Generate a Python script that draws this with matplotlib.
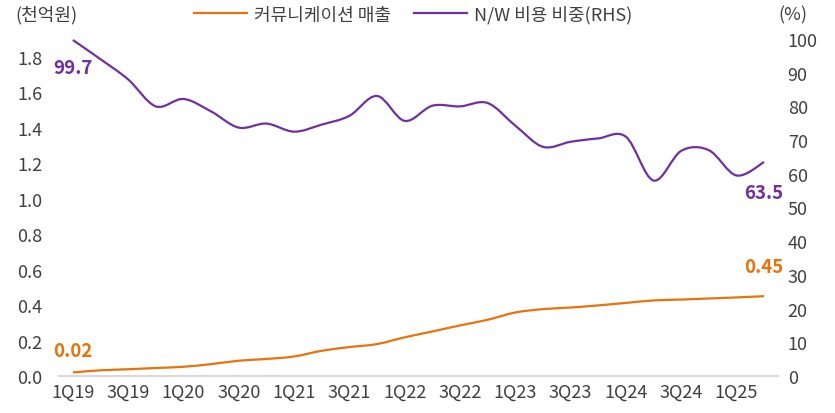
import numpy as np
import matplotlib
matplotlib.use("Agg")
import matplotlib.pyplot as plt
from matplotlib.path import Path
from matplotlib.patches import PathPatch
from matplotlib.lines import Line2D

plt.rcParams['font.family'] = ['Noto Sans CJK KR', 'DejaVu Sans']

# data
quarters = []
for yr in range(19, 26):
    for q in range(1, 5):
        quarters.append(f"{q}Q{yr}")
quarters = quarters[:26]  # 1Q19 ~ 2Q25

comm_sales = [0.02, 0.032, 0.038, 0.045, 0.052, 0.067, 0.086, 0.096, 0.11, 0.142,
              0.163, 0.18, 0.218, 0.251, 0.285, 0.317, 0.358, 0.377, 0.386, 0.398,
              0.412, 0.426, 0.431, 0.437, 0.443, 0.45]
nw_ratio = [99.7, 94.0, 88.0, 80.0, 82.2, 78.5, 73.7, 74.9, 72.5, 74.6,
            77.2, 83.1, 75.7, 80.2, 80.0, 81.0, 74.3, 68.0, 69.5, 70.5,
            71.0, 58.0, 66.8, 67.0, 59.5, 63.5]

orange = '#E8720C'
purple = '#7030A0'
txt = '#404040'


def smooth_path(xs, ys):
    # catmull-rom style bezier through the points (like excel smoothed line)
    pts = np.column_stack([xs, ys]).astype(float)
    ext = np.vstack([pts[0], pts, pts[-1]])
    verts = [pts[0]]
    codes = [Path.MOVETO]
    for i in range(len(pts) - 1):
        p0, p1, p2, p3 = ext[i], ext[i + 1], ext[i + 2], ext[i + 3]
        verts += [p1 + (p2 - p0) / 6, p2 - (p3 - p1) / 6, p2]
        codes += [Path.CURVE4] * 3
    return Path(verts, codes)


fig = plt.figure(figsize=(8.35, 4.14), dpi=100)
ax = fig.add_axes([0.0707, 0.0894, 0.861, 0.8140])
ax2 = ax.twinx()

x = np.arange(len(quarters))
ax.add_patch(PathPatch(smooth_path(x, comm_sales), fill=False, edgecolor=orange, lw=1.6))
ax2.add_patch(PathPatch(smooth_path(x, nw_ratio), fill=False, edgecolor=purple, lw=1.6))

ax.set_xlim(-0.5, len(quarters) - 0.5)
ax.set_ylim(0, 1.9)
ax2.set_ylim(0, 100)
ax.set_yticks(np.arange(0, 1.81, 0.2))
ax.set_yticklabels([f"{v:.1f}" for v in np.arange(0, 1.81, 0.2)])
ax2.set_yticks(np.arange(0, 101, 10))
ax.set_xticks(x[::2])
ax.set_xticklabels(quarters[::2])

fs = 13
for a in (ax, ax2):
    for s in a.spines.values():
        s.set_visible(False)
    a.tick_params(length=0, labelsize=fs, colors=txt)
ax.spines['bottom'].set_visible(True)
ax.spines['bottom'].set_color('#D9D9D9')
ax.spines['bottom'].set_linewidth(1.5)
ax.tick_params(axis='y', pad=12)
ax.tick_params(axis='x', pad=5)
ax2.tick_params(axis='y', pad=7)

# value labels
lab = dict(fontsize=13.5, fontweight='bold', ha='center', va='center')
ax.text(0, 0.145, "0.02", color=orange, **lab)
ax.text(25, 0.62, "0.45", color=orange, **lab)
ax2.text(0, 91.5, "99.7", color=purple, **lab)
ax2.text(25, 54.5, "63.5", color=purple, **lab)

fig.text(0.018, 0.963, "(천억원)", fontsize=fs, color=txt, va='center', ha='left')
fig.text(0.932, 0.963, "(%)", fontsize=fs, color=txt, va='center', ha='left')

handles = [Line2D([], [], color=orange, lw=1.6), Line2D([], [], color=purple, lw=1.6)]
fig.legend(handles, ["커뮤니케이션 매출", "N/W 비용 비중(RHS)"], loc='center',
           bbox_to_anchor=(0.495, 0.963), ncol=2, frameon=False, fontsize=fs,
           handlelength=2.9, columnspacing=1.3, handletextpad=0.4, labelcolor=txt)

fig.savefig("out.png", dpi=100)
